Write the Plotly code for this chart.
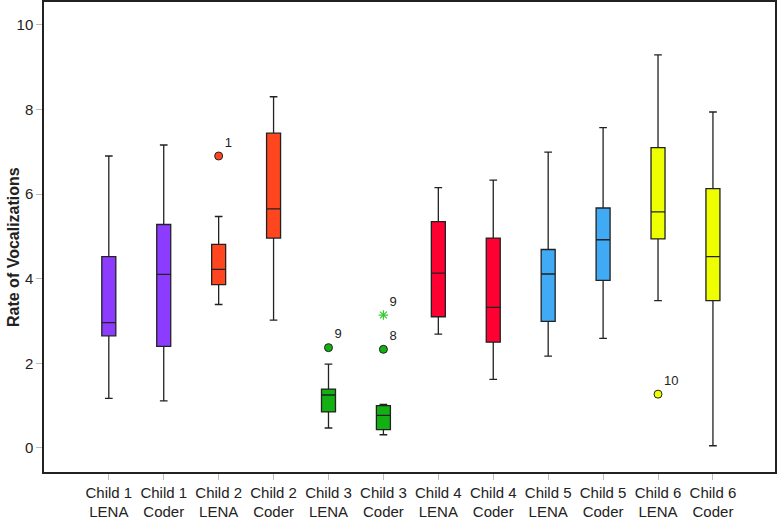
import plotly.graph_objects as go

labels = ["Child 1<br>LENA", "Child 1<br>Coder", "Child 2<br>LENA", "Child 2<br>Coder",
          "Child 3<br>LENA", "Child 3<br>Coder", "Child 4<br>LENA", "Child 4<br>Coder",
          "Child 5<br>LENA", "Child 5<br>Coder", "Child 6<br>LENA", "Child 6<br>Coder"]
lower = [1.17, 1.11, 3.39, 3.02, 0.47, 0.31, 2.69, 1.62, 2.17, 2.59, 3.48, 0.05]
q1 =    [2.65, 2.40, 3.86, 4.96, 0.85, 0.43, 3.10, 2.50, 2.99, 3.96, 4.94, 3.48]
median = [2.96, 4.10, 4.22, 5.65, 1.25, 0.77, 4.13, 3.32, 4.11, 4.92, 5.58, 4.52]
q3 =    [4.52, 5.28, 4.81, 7.44, 1.39, 1.00, 5.35, 4.96, 4.69, 5.67, 7.10, 6.13]
upper = [6.90, 7.16, 5.47, 8.30, 1.98, 1.03, 6.15, 6.33, 6.99, 7.57, 9.29, 7.94]
colors = ["#8C3CFF", "#8C3CFF", "#FF461E", "#FF461E", "#13B013", "#13B013",
          "#FF0033", "#FF0033", "#40AAF5", "#40AAF5", "#EEFF00", "#EEFF00"]

# outliers: (box index, value, label)
out_idx = [2, 4, 5, 10]
out_val = [6.90, 2.37, 2.33, 1.27]
out_lbl = ["1", "9", "8", "10"]
# extreme (star)
ext_idx = [5]
ext_val = [3.14]
ext_lbl = ["9"]

FONT = "Arial, Liberation Sans, sans-serif"
fig = go.Figure()
for i in range(len(labels)):
    fig.add_trace(go.Box(
        x=[i], q1=[q1[i]], median=[median[i]], q3=[q3[i]],
        lowerfence=[lower[i]], upperfence=[upper[i]],
        fillcolor=colors[i], line=dict(color="#222222", width=1.3),
        width=0.255, whiskerwidth=0.55, boxpoints=False,
        showlegend=False, hoverinfo="skip"))

fig.add_trace(go.Scatter(
    x=out_idx, y=out_val, mode="markers+text",
    text=out_lbl, textposition="top right",
    textfont=dict(family=FONT, size=13, color="#222"),
    marker=dict(size=8, color=[colors[i] for i in out_idx], line=dict(color="#222", width=1)),
    showlegend=False, hoverinfo="skip"))
fig.add_trace(go.Scatter(
    x=ext_idx, y=ext_val, mode="markers+text",
    text=ext_lbl, textposition="top right",
    textfont=dict(family=FONT, size=13, color="#222"),
    marker=dict(size=8, symbol="asterisk", color="#33CC33", line=dict(color="#33CC33", width=1.2)),
    showlegend=False, hoverinfo="skip"))

fig.add_annotation(
    text="<b>Rate of Vocalizations</b>", xref="paper", yref="paper",
    x=0, y=0.5, xanchor="center", yanchor="middle", xshift=-31, yshift=-10,
    textangle=-90, showarrow=False, font=dict(family=FONT, size=16, color="#222"))

fig.update_layout(
    width=780, height=520,
    margin=dict(l=44, r=5, t=2, b=48),
    paper_bgcolor="white", plot_bgcolor="white",
    font=dict(family=FONT, size=15, color="#222"),
    xaxis=dict(range=[-1.18, 12.13], tickmode="array", tickvals=list(range(12)),
               ticktext=labels, showgrid=False, zeroline=False, automargin=False,
               showline=True, linecolor="#222", linewidth=1.5, mirror=True,
               ticks="outside", ticklen=6, tickcolor="#bbbbbb",
               tickfont=dict(size=15)),
    yaxis=dict(range=[-0.57, 10.54], tickvals=[0, 2, 4, 6, 8, 10],
               showgrid=False, zeroline=False, automargin=False,
               showline=True, linecolor="#222", linewidth=1.5, mirror=True,
               ticks="outside", ticklen=6, tickcolor="#bbbbbb",
               tickfont=dict(size=15)),
)
fig.write_html("out.html", config={"displayModeBar": False},
               post_script="document.body.style.margin='0';")
